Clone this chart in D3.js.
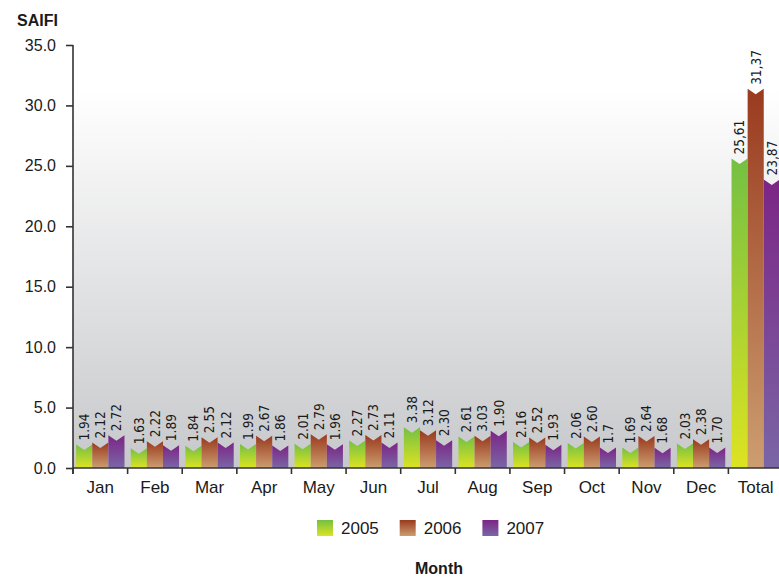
<!DOCTYPE html>
<html>
<head>
<meta charset="utf-8">
<script src="https://cdn.jsdelivr.net/npm/d3@7"></script>
<style>
  body { margin: 0; background: #fff; }
  text { font-family: "Liberation Sans", Arial, sans-serif; fill: #1a1a1a; }
  .val { font-family: "Liberation Sans Narrow", "DejaVu Sans Condensed", sans-serif; }
</style>
</head>
<body>
<div id="chartDiv"></div>
<script>
var months = ["Jan", "Feb", "Mar", "Apr", "May", "Jun", "Jul", "Aug", "Sep", "Oct", "Nov", "Dec", "Total"]
var years = ["2005", "2006", "2007"]

// bar heights as drawn
var v2005 = [1.94, 1.63, 1.84, 1.99, 2.01, 2.27, 3.38, 2.61, 2.16, 2.06, 1.69, 2.03, 25.61]
var v2006 = [2.12, 2.22, 2.55, 2.67, 2.79, 2.73, 3.12, 2.66, 2.52, 2.60, 2.64, 2.38, 31.37]
var v2007 = [2.72, 1.89, 2.12, 1.86, 1.96, 2.11, 2.30, 3.08, 1.93, 1.70, 1.68, 1.70, 23.87]

// value labels as printed
var l2005 = ["1.94", "1.63", "1.84", "1.99", "2.01", "2.27", "3.38", "2.61", "2.16", "2.06", "1.69", "2.03", "25,61"]
var l2006 = ["2.12", "2.22", "2.55", "2.67", "2.79", "2.73", "3.12", "3.03", "2.52", "2.60", "2.64", "2.38", "31,37"]
var l2007 = ["2.72", "1.89", "2.12", "1.86", "1.96", "2.11", "2.30", "1.90", "1.93", "1.7", "1.68", "1.70", "23,87"]

var yTicks = [0, 5, 10, 15, 20, 25, 30, 35]

var gradStops = [["#74c043", "#dde321"], ["#9a3a1e", "#cc9e70"], ["#7c2585", "#7a66a6"]]

var width = 779, height = 578
var margin = {top: 45, left: 73, bottom: 110}
var plotBottom = height - margin.bottom
var bandRight = 783

var svg = d3.select("#chartDiv").append("svg")
    .attr("width", width)
    .attr("height", height)

var defs = svg.append("defs")

var bg = defs.append("linearGradient").attr("id", "bgGrad")
    .attr("x1", 0).attr("y1", 0).attr("x2", 0).attr("y2", 1)
bg.append("stop").attr("offset", "0%").attr("stop-color", "#ffffff")
bg.append("stop").attr("offset", "100%").attr("stop-color", "#c7c8cb")

gradStops.forEach(function(s, i) {
  var g = defs.append("linearGradient").attr("id", "barGrad" + i)
      .attr("x1", 0).attr("y1", 0).attr("x2", 0).attr("y2", 1)
  g.append("stop").attr("offset", "0%").attr("stop-color", s[0])
  g.append("stop").attr("offset", "100%").attr("stop-color", s[1])
})

var x = d3.scaleBand().domain(months).range([margin.left, bandRight])
    .paddingInner(0.115).paddingOuter(0.0575)
var xSub = d3.scaleBand().domain(years).range([0, x.bandwidth()])

var y = d3.scaleLinear().domain([0, 35]).range([plotBottom, margin.top])

// plot background
svg.append("rect")
    .attr("x", margin.left)
    .attr("y", y(31.3))
    .attr("width", width - margin.left)
    .attr("height", plotBottom - y(31.3))
    .attr("fill", "url(#bgGrad)")

var series = [
  {name: "2005", values: v2005, labels: l2005},
  {name: "2006", values: v2006, labels: l2006},
  {name: "2007", values: v2007, labels: l2007}
]

var notch = 5.5

series.forEach(function(s, si) {
  var data = months.map(function(m, i) { return {month: m, value: s.values[i], label: s.labels[i]} })
  var g = svg.append("g")

  g.selectAll("path")
    .data(data)
    .enter().append("path")
      .attr("d", function(d) {
        var x0 = x(d.month) + xSub(s.name)
        var x1 = x0 + xSub.bandwidth()
        var yt = y(d.value)
        return "M" + x0 + "," + plotBottom + "L" + x0 + "," + yt +
               "L" + ((x0 + x1) / 2) + "," + (yt + notch) +
               "L" + x1 + "," + yt + "L" + x1 + "," + plotBottom + "Z"
      })
      .attr("fill", "url(#barGrad" + si + ")")

  g.selectAll("text")
    .data(data)
    .enter().append("text")
      .attr("class", "val")
      .attr("transform", function(d) {
        var cx = x(d.month) + xSub(s.name) + xSub.bandwidth() / 2
        return "translate(" + cx + "," + (y(d.value) - 4) + ") rotate(-90)"
      })
      .attr("dy", "0.36em")
      .attr("text-anchor", "start")
      .style("font-size", "13.5px")
      .text(function(d) { return d.label })
})

// y axis
var yAxis = d3.axisLeft(y).tickValues(yTicks).tickFormat(d3.format(".1f"))
    .tickSize(7).tickSizeOuter(0).tickPadding(10)
var yG = svg.append("g")
    .attr("transform", "translate(" + margin.left + ",0)")
    .call(yAxis)
yG.selectAll("text").style("font-size", "16px").style("fill", "#1a1a1a")
yG.selectAll("line, path").attr("stroke", "#333").attr("stroke-width", 1.6)
yG.select(".domain").attr("d", "M0," + margin.top + "V" + (plotBottom + 6))

// x axis
var xAxis = d3.axisBottom(x).tickSize(0).tickPadding(13)
var xG = svg.append("g")
    .attr("transform", "translate(0," + plotBottom + ")")
    .call(xAxis)
xG.select(".domain").attr("d", "M" + margin.left + ",0H" + width)
    .attr("stroke", "#333").attr("stroke-width", 1.6)
xG.selectAll("text").style("font-size", "17px").style("fill", "#1a1a1a")

xG.selectAll(".sep")
  .data(months)
  .enter().append("line")
    .attr("class", "sep")
    .attr("x1", function(d) { return x(d) - x.step() * x.paddingInner() / 2 })
    .attr("x2", function(d) { return x(d) - x.step() * x.paddingInner() / 2 })
    .attr("y1", 0).attr("y2", 6)
    .attr("stroke", "#333").attr("stroke-width", 1.6)

// titles
svg.append("text")
    .attr("x", 17).attr("y", 26)
    .style("font-size", "16px").style("font-weight", "bold")
    .text("SAIFI")

svg.append("text")
    .attr("x", 439).attr("y", 574)
    .attr("text-anchor", "middle")
    .style("font-size", "16px").style("font-weight", "bold")
    .text("Month")

// legend
var legend = svg.selectAll(".legend")
    .data(years)
    .enter().append("g")
    .attr("class", "legend")
    .attr("transform", function(d, i) { return "translate(" + (317 + i * 82.7) + ",520)" })
legend.append("rect")
    .attr("width", 16).attr("height", 16)
    .attr("fill", function(d, i) { return "url(#barGrad" + i + ")" })
legend.append("text")
    .attr("x", 24).attr("y", 14)
    .style("font-size", "17px")
    .text(function(d) { return d })
</script>
</body>
</html>
